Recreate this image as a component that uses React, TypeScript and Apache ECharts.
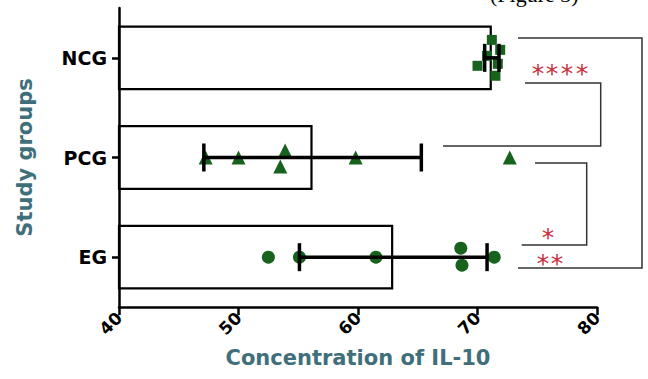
import React, { useEffect, useRef } from "react";
import * as echarts from "echarts";

const categories = ["EG", "PCG", "NCG"];
const means = [62.95, 56.2, 71.2];
const sds = [7.85, 9.1, 0.6];

const egValues = [52.5, 55.1, 61.5, 68.6, 68.7, 71.4];
const egJitter = [0, 0, 0, 0.09, -0.08, 0];
const pcgValues = [47.25, 50.0, 53.9, 53.5, 59.8, 72.7];
const pcgJitter = [0, 0, 0.07, -0.09, 0, 0];
const ncgValues = [70.0, 70.8, 71.2, 71.5, 71.9, 71.7];
const ncgJitter = [-0.08, 0.02, 0.18, -0.18, 0.08, -0.06];

const xMin = 40;
const xMax = 80;
const xInterval = 10;

const GREEN = "#17621c";
const TEAL = "#3f6f7b";
const RED = "#c8323c";
const FONT = "DejaVu Sans";

export default function App() {
  const ref = useRef<HTMLDivElement>(null);

  useEffect(() => {
    if (!ref.current) return;
    const chart = echarts.init(ref.current, undefined, { renderer: "svg" });

    const pts = (vals: number[], jit: number[], cat: number) =>
      vals.map((v, i) => [v, cat + jit[i]]);

    const errData = categories.map((_, i) => [i, means[i] - sds[i], means[i] + sds[i]]);

    const bracket = (points: number[][]) => ({
      type: "polyline",
      shape: { points },
      style: { stroke: "#333", lineWidth: 1.5, fill: null },
      z: 20,
    });

    const stars = (xs: number[], y: number) =>
      xs.map((x) => ({
        type: "text",
        x,
        y: y + 5,
        style: {
          text: "*",
          fill: RED,
          font: `25px "${FONT}"`,
          textAlign: "center",
          textVerticalAlign: "middle",
        },
        z: 20,
      }));

    chart.setOption({
      animation: false,
      grid: { left: 119, right: 51, top: 8, bottom: 72 },
      xAxis: {
        type: "value",
        min: xMin,
        max: xMax,
        interval: xInterval,
        z: 5,
        name: "Concentration of IL-10",
        nameLocation: "middle",
        nameGap: 40,
        nameTextStyle: { color: TEAL, fontFamily: FONT, fontWeight: "bold", fontSize: 21 },
        axisLine: { show: true, onZero: false, lineStyle: { color: "#000", width: 2.5 } },
        axisTick: { show: true, length: 8, lineStyle: { color: "#000", width: 2.5 } },
        axisLabel: {
          rotate: 45,
          margin: 8,
          color: "#000",
          fontFamily: FONT,
          fontWeight: "bold",
          fontSize: 17,
        },
        splitLine: { show: false },
      },
      yAxis: [
        {
          type: "category",
          data: categories,
          z: 5,
          name: "Study groups",
          nameLocation: "middle",
          nameGap: 84,
          nameTextStyle: { color: TEAL, fontFamily: FONT, fontWeight: "bold", fontSize: 21 },
          axisLine: { show: true, onZero: false, lineStyle: { color: "#000", width: 2.5 } },
          axisTick: { show: true, alignWithLabel: true, length: 7, lineStyle: { color: "#000", width: 2.5 } },
          axisLabel: { color: "#000", fontFamily: FONT, fontWeight: "bold", fontSize: 19, margin: 12 },
        },
        {
          type: "value",
          min: -0.5,
          max: 2.5,
          show: false,
          axisLine: { onZero: false },
        },
      ],
      series: [
        {
          type: "bar",
          yAxisIndex: 0,
          data: means,
          barWidth: "65%",
          itemStyle: { color: "#fff", borderColor: "#000", borderWidth: 2.2 },
          z: 1,
        },
        {
          type: "scatter",
          yAxisIndex: 1,
          symbol: "circle",
          symbolSize: 13,
          itemStyle: { color: GREEN, opacity: 1 },
          data: pts(egValues, egJitter, 0),
          z: 3,
        },
        {
          type: "scatter",
          yAxisIndex: 1,
          symbol: "triangle",
          symbolSize: 14,
          itemStyle: { color: GREEN, opacity: 1 },
          data: pts(pcgValues, pcgJitter, 1),
          z: 3,
        },
        {
          type: "scatter",
          yAxisIndex: 1,
          symbol: "rect",
          symbolSize: 10,
          itemStyle: { color: GREEN, opacity: 1 },
          data: pts(ncgValues, ncgJitter, 2),
          z: 3,
        },
        {
          type: "custom",
          yAxisIndex: 0,
          encode: { x: [1, 2], y: 0 },
          data: errData,
          z: 4,
          renderItem: (params: any, api: any) => {
            const cat = api.value(0);
            const lo = api.coord([api.value(1), cat]);
            const hi = api.coord([api.value(2), cat]);
            const cap = 14;
            const st = { stroke: "#000", lineWidth: 3.5 };
            return {
              type: "group",
              children: [
                { type: "line", shape: { x1: lo[0], y1: lo[1], x2: hi[0], y2: hi[1] }, style: st },
                { type: "line", shape: { x1: lo[0], y1: lo[1] - cap, x2: lo[0], y2: lo[1] + cap }, style: st },
                { type: "line", shape: { x1: hi[0], y1: hi[1] - cap, x2: hi[0], y2: hi[1] + cap }, style: st },
              ],
            };
          },
        },
      ],
      graphic: [
        bracket([[518, 38], [642, 38], [642, 268], [518, 268]]),
        bracket([[525, 83], [600.7, 83], [600.7, 146], [443, 146]]),
        bracket([[535, 163], [586.7, 163], [586.7, 245], [521.7, 245]]),
        ...stars([538, 552, 567, 582], 68),
        ...stars([548], 232),
        ...stars([543, 557], 258),
        {
          type: "text",
          x: 490,
          y: 5,
          style: {
            text: "(Figure 3)",
            fill: "#000",
            font: '22px "Liberation Serif"',
            textVerticalAlign: "bottom",
          },
        },
      ],
    });

    return () => chart.dispose();
  }, []);

  return (
    <div
      ref={ref}
      style={{ position: "fixed", left: 0, top: 0, width: 648, height: 379, background: "#fff" }}
    />
  );
}
